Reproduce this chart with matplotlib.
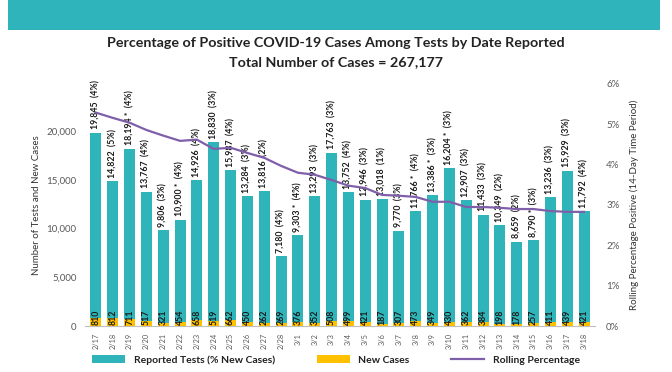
import matplotlib
matplotlib.use("Agg")
import matplotlib.pyplot as plt
from matplotlib.patches import Rectangle, Patch
from matplotlib.lines import Line2D

dates = ["2/17","2/18","2/19","2/20","2/21","2/22","2/23","2/24","2/25","2/26","2/27","2/28",
         "3/1","3/2","3/3","3/4","3/5","3/6","3/7","3/8","3/9","3/10","3/11","3/12","3/13",
         "3/14","3/15","3/16","3/17","3/18"]
tests = [19845,14822,18194,13767,9806,10900,14926,18830,15987,13284,13816,7180,
         9303,13293,17763,13752,12946,13018,9770,11766,13386,16204,12907,11433,10349,
         8659,8790,13236,15929,11792]
pct_new = [4,5,4,4,3,4,4,3,4,3,2,4,4,3,3,4,3,1,3,4,3,3,3,3,2,2,3,3,3,4]
starred = [0,0,1,0,0,1,0,0,0,0,0,0,1,0,0,0,0,0,0,1,1,1,0,0,0,0,1,0,0,0]
new_cases = [810,812,711,517,321,454,658,519,662,450,262,269,376,352,508,499,421,187,
             307,473,349,430,362,384,198,178,257,411,439,421]
rolling = [5.29,5.16,5.04,4.86,4.72,4.59,4.62,4.39,4.42,4.29,4.17,3.97,3.80,3.75,3.62,
           3.48,3.42,3.25,3.23,3.20,3.08,3.08,2.95,2.95,2.93,2.90,2.90,2.85,2.83,2.83]

TEAL = "#2fb5b9"
GOLD = "#ffc000"
PURPLE = "#7f5fa9"
GRAY = "#595959"

plt.rcParams['font.family'] = ['Lato', 'DejaVu Sans']

fig = plt.figure(figsize=(6.72, 3.72), dpi=100)
# header band
fig.patches.append(Rectangle((8/672, 1 - 30/372), 652/672, 30/372, transform=fig.transFigure,
                             facecolor="#2fb4bb", edgecolor="none", zorder=0))
fig.text(0.5, 1 - 43/372, "Percentage of Positive COVID-19 Cases Among Tests by Date Reported",
         ha="center", va="center", fontsize=10.3, fontweight="bold", color="#222222")
fig.text(0.5, 1 - 62/372, "Total Number of Cases = 267,177",
         ha="center", va="center", fontsize=10.3, fontweight="bold", color="#222222")

ax = fig.add_axes([85/672, 46/372, 510/672, 242/372])
x = list(range(len(dates)))
ax.bar(x, tests, width=0.65, color=TEAL, zorder=2)
ax.bar(x, new_cases, width=0.65, color=GOLD, zorder=3)
ax.set_xlim(-0.65, len(dates) - 0.35)
ax.set_ylim(0, 24820)
ax.set_yticks([0, 5000, 10000, 15000, 20000])
ax.set_yticklabels(["0", "5,000", "10,000", "15,000", "20,000"])
ax.set_xticks(x)
ax.set_xticklabels(dates, rotation=90, fontsize=5.3)
ax.tick_params(axis="y", length=0, labelsize=7, labelcolor=GRAY, pad=6)
ax.tick_params(axis="x", length=0, labelcolor=GRAY, pad=5)
for s in ["top", "right", "left"]:
    ax.spines[s].set_visible(False)
ax.spines["bottom"].set_color("#bfbfbf")
ax.set_ylabel("Number of Tests and New Cases", fontsize=7, color="#333333", labelpad=4)

for i in x:
    star = " *" if starred[i] else ""
    ax.text(i, tests[i] + 350, f"{tests[i]:,}{star}  ({pct_new[i]}%)", rotation=90,
            ha="center", va="bottom", fontsize=6.3, fontweight="bold", color="#1a1a1a", zorder=5)
    ax.text(i, 150, f"{new_cases[i]}", rotation=90, ha="center", va="bottom",
            fontsize=6.3, fontweight="bold", color="#1a1a1a", zorder=5)

ax2 = ax.twinx()
ax2.plot(x, [r / 100 for r in rolling], color=PURPLE, lw=1.6, zorder=4)
ax2.set_ylim(0, 0.06)
ax2.set_yticks([0, 0.01, 0.02, 0.03, 0.04, 0.05, 0.06])
ax2.set_yticklabels(["0%", "1%", "2%", "3%", "4%", "5%", "6%"])
ax2.tick_params(axis="y", length=0, labelsize=7, labelcolor=GRAY, pad=8)
for s in ["top", "right", "left", "bottom"]:
    ax2.spines[s].set_visible(False)
ax2.set_ylabel("Rolling Percentage Positive (14-Day Time Period)", fontsize=7,
               color="#333333", labelpad=7)

handles = [Patch(facecolor=TEAL, label="Reported Tests (% New Cases)"),
           Patch(facecolor=GOLD, label="New Cases"),
           Line2D([0], [0], color=PURPLE, lw=1.6, label="Rolling Percentage")]
leg = fig.legend(handles=handles, loc="center", bbox_to_anchor=(0.5, 1 - 360/372), ncol=3,
                 frameon=False, handlelength=3.2, handleheight=0.7, borderaxespad=0,
                 borderpad=0, columnspacing=4, prop={"weight": "bold", "size": 7.5})
for t in leg.get_texts():
    t.set_color("#222222")

fig.savefig("out.png", dpi=100)
